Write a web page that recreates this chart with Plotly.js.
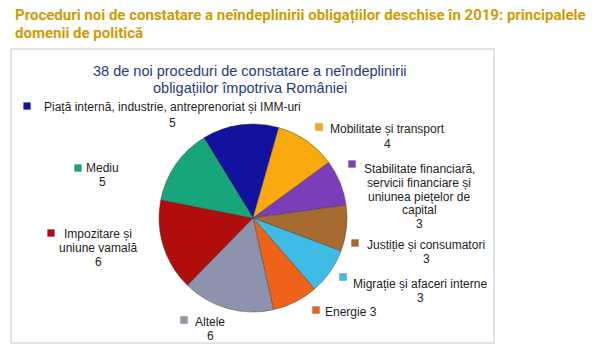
<!DOCTYPE html>
<html>
<head>
<meta charset="utf-8">
<script src="https://cdn.plot.ly/plotly-3.0.1.min.js"></script>
<style>html,body{margin:0;padding:0;background:#fff;}#chart{width:611px;height:355px;}</style>
</head>
<body>
<div id="chart"></div>
<script>
// ---- data ----
const pageTitle = "Proceduri noi de constatare a neîndeplinirii obligațiilor deschise în 2019: principalele domenii de politică";
const chartTitle = "38 de noi proceduri de constatare a neîndeplinirii obligațiilor împotriva României";
const categories = [
  "Piață internă, industrie, antreprenoriat și IMM-uri",
  "Mobilitate și transport",
  "Stabilitate financiară, servicii financiare și uniunea piețelor de capital",
  "Justiție și consumatori",
  "Migrație și afaceri interne",
  "Energie",
  "Altele",
  "Impozitare și uniune vamală",
  "Mediu"
];
const values = [5, 4, 3, 3, 3, 3, 6, 6, 5];

// ---- styles / layout ----
const colors = ["#12129e", "#f9a90c", "#7b3dba", "#a76b31", "#3fbbe6", "#ef6219", "#8d93ad", "#b10d0d", "#17a67b"];
const W = 611, H = 355;
const px = x => x / W, py = y => 1 - y / H;
const pieC = [253, 218], pieR = 94;
// per label: first line center (x,y), line gap, wrap width (chars), value inline?, marker pos
const labelPos = [
  {x: 172, y: 107, gap: 16, wrap: 80, inline: false, m: [27, 106]},
  {x: 387, y: 129, gap: 15, wrap: 80, inline: false, m: [319, 127]},
  {x: 419, y: 169, gap: 13.8, wrap: 23, inline: false, m: [352, 164]},
  {x: 426, y: 245, gap: 13.5, wrap: 80, inline: false, m: [355, 243]},
  {x: 420, y: 284, gap: 13.5, wrap: 80, inline: false, m: [343, 277]},
  {x: 351, y: 312, gap: 13.5, wrap: 80, inline: true, m: [316, 310]},
  {x: 210, y: 322, gap: 13.5, wrap: 80, inline: false, m: [184, 320]},
  {x: 98, y: 234, gap: 14, wrap: 14, inline: false, m: [51, 233]},
  {x: 102, y: 168, gap: 13.5, wrap: 80, inline: false, m: [78, 168]}
];

function wrap(text, n) {
  const words = text.split(" "); const lines = []; let cur = "";
  words.forEach(w => {
    if (cur && (cur + " " + w).length > n) { lines.push(cur); cur = w; }
    else cur = cur ? cur + " " + w : w;
  });
  if (cur) lines.push(cur);
  return lines;
}

const annotations = [];
const shapes = [];
const labFont = {family: "Liberation Sans, Arial, sans-serif", size: 12, color: "#1e1e1e"};

// page title (two lines)
const tWords = wrap(pageTitle, 89);
tWords.forEach((t, i) => annotations.push({
  text: "<b>" + t + "</b>", xref: "paper", yref: "paper", x: px(13), y: py(15 + i * 18.5),
  xanchor: "left", yanchor: "middle", showarrow: false,
  font: {family: "Liberation Sans Narrow, Roboto, sans-serif", size: 15, color: "#d09c00"}
}));
// chart title
wrap(chartTitle, 52).forEach((t, i) => annotations.push({
  text: t, xref: "paper", yref: "paper", x: px(250), y: py(71 + i * 17),
  xanchor: "center", yanchor: "middle", showarrow: false,
  font: {family: "Liberation Sans, Arial, sans-serif", size: 14.5, color: "#283b7c"}
}));
// slice labels
categories.forEach((c, k) => {
  const p = labelPos[k];
  let lines = wrap(c, p.wrap);
  if (p.inline) lines[lines.length - 1] += " " + values[k];
  else lines.push(String(values[k]));
  lines.forEach((t, i) => annotations.push({
    text: t, xref: "paper", yref: "paper", x: px(p.x), y: py(p.y + i * p.gap),
    xanchor: "center", yanchor: "middle", showarrow: false, font: labFont
  }));
  shapes.push({type: "rect", xref: "paper", yref: "paper",
    x0: px(p.m[0] - 3.5), x1: px(p.m[0] + 3.5), y0: py(p.m[1] + 3.5), y1: py(p.m[1] - 3.5),
    fillcolor: colors[k], line: {color: "rgba(0,0,0,0.25)", width: 0.6}});
});
// frame
shapes.push({type: "rect", xref: "paper", yref: "paper", x0: px(11), x1: px(494), y0: py(343), y1: py(49),
  line: {color: "#e2e2e2", width: 2}, fillcolor: "rgba(0,0,0,0)", layer: "below"});

const trace = {
  type: "pie", labels: categories, values: values, sort: false, direction: "clockwise",
  rotation: -31.5, textinfo: "none", hoverinfo: "label+value",
  marker: {colors: colors, line: {color: "rgba(60,60,60,0.55)", width: 0.8}},
  domain: {x: [px(pieC[0] - pieR), px(pieC[0] + pieR)], y: [py(pieC[1] + pieR), py(pieC[1] - pieR)]}
};

Plotly.newPlot("chart", [trace], {
  width: W, height: H, margin: {l: 0, r: 0, t: 0, b: 0},
  paper_bgcolor: "#ffffff", showlegend: false,
  annotations: annotations, shapes: shapes
}, {displayModeBar: false, staticPlot: true});
</script>
</body>
</html>
